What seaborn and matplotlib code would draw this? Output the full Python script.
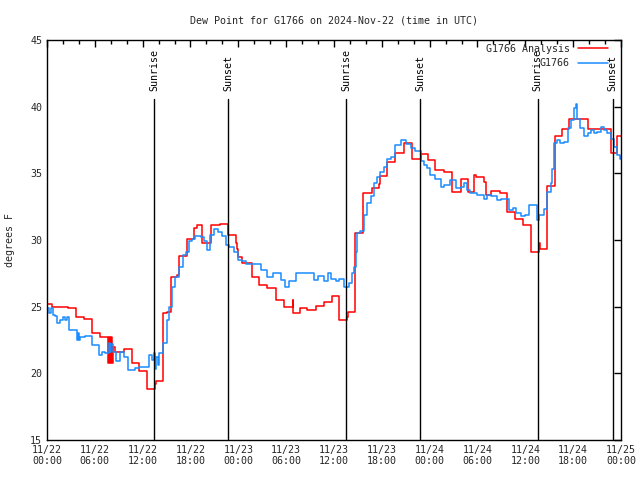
import pandas as pd
import seaborn as sns
import matplotlib.pyplot as plt
import matplotlib.dates as mdates
import matplotlib.transforms as mtransforms

# hours after 2024-11-22 00:00 UTC, values in degrees F
analysis_hours = [0.0, 0.6, 2.6, 3.6, 4.6, 5.6, 6.6, 7.6, 7.75, 7.85, 8.0, 8.1, 8.3,
                  8.55, 9.6, 10.6, 11.6, 12.6, 13.5, 13.7, 14.6, 15.1, 15.6, 16.3, 16.6,
                  17.5, 18.5, 18.8, 19.5, 20.6, 21.7, 22.7, 23.65, 23.8, 24.0, 24.5, 25.66,
                  26.6, 27.6, 28.7, 29.7, 30.8, 30.85, 31.7, 32.6, 33.7, 34.7, 35.7, 36.6,
                  37.6, 37.74, 38.58, 39.67, 40.8, 41.6, 41.8, 42.7, 43.7, 44.8, 45.8, 46.86,
                  47.8, 48.7, 49.8, 50.75, 51.97, 52.8, 53.55, 53.76, 54.8, 55.1, 55.7, 56.8,
                  57.7, 58.66, 59.75, 60.67, 61.7, 61.9, 62.67, 63.7, 64.6, 65.5, 67.8, 70.8,
                  71.5, 72.0]
analysis_vals = [25.17, 24.97, 24.87, 24.2, 24.05, 23.0, 22.7, 20.75, 22.7, 20.75, 22.7, 20.75, 22.0,
                 21.6, 21.8, 20.75, 20.17, 18.8, 19.2, 19.45, 24.5, 24.6, 27.25, 27.4, 28.8,
                 30.1, 30.87, 31.1, 29.75, 31.1, 31.2, 30.4, 29.8, 29.3, 28.75, 28.3, 27.25,
                 26.6, 26.4, 25.5, 25.0, 25.5, 24.5, 24.87, 24.75, 25.05, 25.37, 25.8, 24.0,
                 24.25, 24.57, 30.55, 33.55, 33.87, 34.2, 34.8, 35.83, 36.5, 37.3, 36.1, 36.45,
                 36.0, 35.25, 35.07, 33.57, 34.6, 33.63, 34.87, 34.7, 34.37, 33.37, 33.7, 33.55,
                 32.1, 31.6, 31.1, 29.1, 29.75, 29.3, 34.05, 37.8, 38.3, 39.1, 38.3, 36.55,
                 37.8, 37.8]

obs_hours = [0.0, 0.3, 0.5, 0.7, 1.0, 1.3, 1.6, 2.0, 2.3, 2.5, 2.75, 3.5, 3.8, 3.9, 4.0, 4.1,
             4.8, 5.7, 6.5, 6.9, 7.3, 7.8, 7.9, 8.0, 8.3, 8.7, 9.2, 9.6, 10.1, 11.0, 11.5,
             12.8, 13.2, 13.4, 13.5, 13.7, 13.9, 14.0, 14.5, 15.0, 15.3, 15.7, 16.1, 16.5,
             17.0, 17.4, 17.8, 18.2, 18.6, 19.3, 19.7, 20.1, 20.5, 20.9, 21.5, 21.9, 22.4,
             22.8, 23.4, 24.0, 24.5, 25.0, 25.9, 26.8, 27.6, 28.4, 29.3, 29.9, 30.3, 31.2,
             33.0, 33.5, 34.0, 34.7, 35.2, 35.6, 36.2, 36.6, 37.2, 37.9, 38.3, 38.5, 38.7,
             38.9, 39.3, 39.75, 40.2, 40.6, 41.0, 41.4, 41.8, 42.3, 42.7, 43.1, 43.7, 44.35,
             45.0, 45.6, 46.2, 46.9, 47.3, 47.7, 48.1, 48.7, 49.4, 49.8, 50.6, 51.3, 51.9,
             52.3, 52.7, 53.1, 54.0, 54.8, 55.2, 55.65, 56.5, 56.9, 57.3, 57.9, 58.4, 58.8,
             59.4, 60.0, 60.45, 61.5, 61.7, 62.3, 62.76, 63.2, 63.4, 63.6, 64.0, 64.4, 64.85,
             65.3, 65.7, 66.1, 66.3, 66.5, 66.9, 67.35, 67.8, 68.2, 68.6, 69.0, 69.45, 69.9,
             70.3, 70.7, 71.1, 71.5, 71.9, 72.0]
obs_vals = [24.9, 24.55, 24.9, 24.4, 24.3, 23.8, 24.0, 24.2, 24.0, 24.25, 23.25, 23.25, 22.5, 23.0, 22.5, 22.75,
            22.8, 22.1, 21.4, 21.6, 21.5, 22.3, 21.6, 22.2, 21.6, 20.9, 21.6, 21.2, 20.25, 20.4, 20.5,
            21.4, 21.0, 21.5, 20.3, 21.2, 20.6, 21.5, 22.3, 24.0, 25.0, 26.5, 27.2, 28.0,
            28.9, 29.1, 29.9, 30.1, 30.3, 30.2, 29.9, 29.25, 30.4, 30.8, 30.6, 30.3, 29.6,
            29.5, 29.1, 28.5, 28.4, 28.2, 28.2, 27.75, 27.25, 27.5, 27.0, 26.5, 26.9, 27.5,
            27.5, 27.0, 27.3, 26.9, 27.5, 27.1, 26.9, 27.1, 26.5, 26.75, 27.5, 28.0, 29.1,
            30.5, 30.7, 31.9, 32.75, 33.3, 34.25, 34.75, 35.1, 35.5, 36.1, 36.2, 37.1, 37.5,
            37.2, 36.9, 36.7, 35.9, 35.6, 35.4, 34.9, 34.6, 34.0, 34.1, 34.5, 33.9, 34.0,
            34.25, 33.75, 33.5, 33.4, 33.1, 33.4, 33.3, 33.0, 33.1, 33.05, 32.25, 32.4, 32.0,
            31.8, 31.9, 32.6, 31.5, 31.9, 32.3, 33.6, 34.25, 35.3, 37.25, 37.5, 37.3, 37.35,
            38.4, 39.0, 39.9, 40.2, 39.1, 38.4, 37.8, 38.0, 38.25, 38.0, 38.1, 38.5, 38.25,
            38.0, 37.6, 37.0, 36.4, 36.1, 36.2]

sunrise_hours = [13.45, 37.55, 61.55]
sunset_hours = [22.75, 46.85, 70.95]

start = pd.Timestamp('2024-11-22 00:00')
red = pd.DataFrame({'time': start + pd.to_timedelta(analysis_hours, unit='h'), 'dewpt': analysis_vals})
blue = pd.DataFrame({'time': start + pd.to_timedelta(obs_hours, unit='h'), 'dewpt': obs_vals})

sns.set_theme(style='white')
plt.rcParams['font.family'] = ['DejaVu Sans Mono']
plt.rcParams['font.size'] = 7.2

fig = plt.figure(figsize=(6.4, 4.8), dpi=100)
ax = fig.add_axes([47 / 640, 40 / 480, 574 / 640, 400 / 480])

sns.lineplot(data=red, x='time', y='dewpt', ax=ax, color='#ff0000', lw=1.1,
             drawstyle='steps-post', estimator=None, label='G1766 Analysis')
sns.lineplot(data=blue, x='time', y='dewpt', ax=ax, color='#1a8cff', lw=1.1,
             drawstyle='steps-post', estimator=None, label='G1766')

trans = mtransforms.blended_transform_factory(ax.transData, ax.transAxes)
for hrs, name in [(sunrise_hours, 'Sunrise'), (sunset_hours, 'Sunset')]:
    for h in hrs:
        t = start + pd.Timedelta(hours=h)
        ax.axvline(t, ymin=0, ymax=0.853, color='black', lw=1)
        ax.text(t, 0.872, name, transform=trans, rotation=90, ha='center', va='bottom',
                fontsize=7.2, color='black')

ax.set_xlim(start, start + pd.Timedelta(hours=72))
ax.set_ylim(15, 45)
ax.set_yticks([15, 20, 25, 30, 35, 40, 45])
ax.xaxis.set_major_locator(mdates.HourLocator(byhour=[0, 6, 12, 18]))
ax.xaxis.set_minor_locator(mdates.HourLocator(interval=2))
ax.xaxis.set_major_formatter(mdates.DateFormatter('%m/%d\n%H:%M'))
ax.tick_params(which='both', direction='in', top=True, right=True, color='black', labelsize=7.2)
ax.tick_params(which='major', length=5, width=1)
ax.tick_params(which='minor', length=3, width=1)
for s in ax.spines.values():
    s.set_color('black')
    s.set_linewidth(1)

ax.set_xlabel('')
ax.set_ylabel('degrees F', fontsize=7.2, labelpad=11)
ax.set_title('Dew Point for G1766 on 2024-Nov-22 (time in UTC)', fontsize=7.2, pad=12)

ax.legend(loc='upper right', bbox_to_anchor=(0.984, 1.0), frameon=False, markerfirst=False,
          handlelength=3.0, handletextpad=0.8, labelspacing=0.45, borderaxespad=0, fontsize=7.2)

fig.savefig('out.png', dpi=100)
